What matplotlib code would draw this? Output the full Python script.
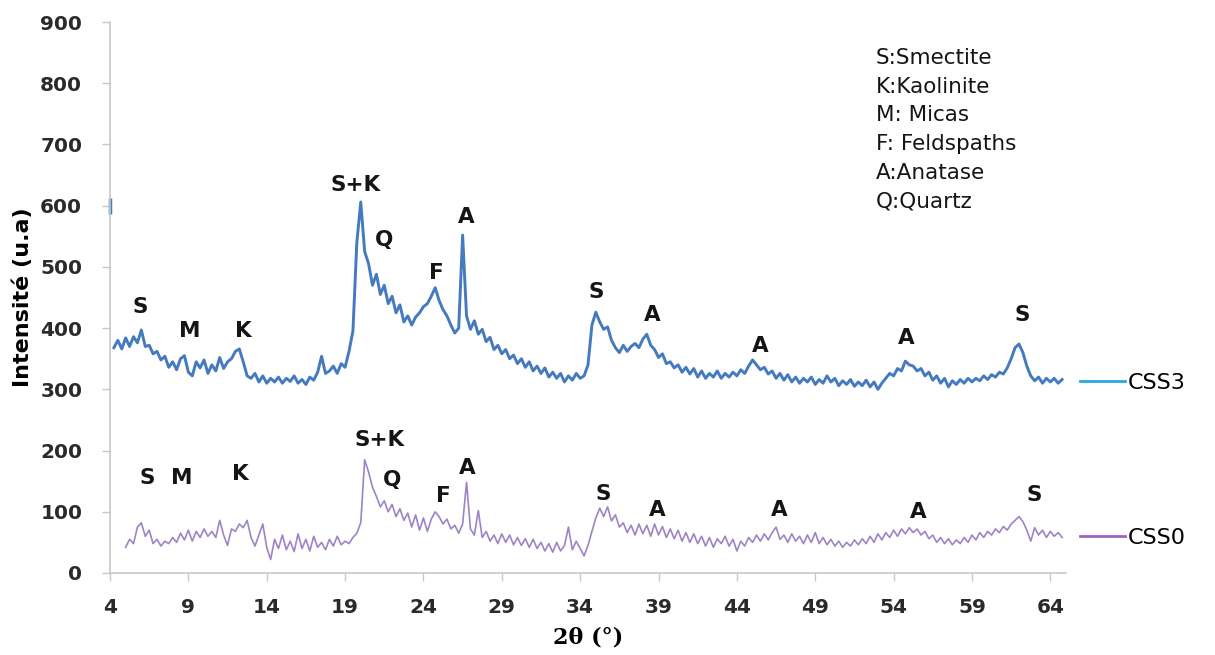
import numpy as np
import matplotlib
matplotlib.use("Agg")
from matplotlib import pyplot as plt
from matplotlib.lines import Line2D

plt.rcParams['font.family'] = ['DejaVu Sans']

# scan grid (2theta start and step) for each pattern
css3_start, css0_start, step = 4.25, 5.0, 0.25

css3 = [368, 380, 366, 384, 370, 386, 376, 397, 370, 372, 358, 362, 348, 354, 336, 345, 332, 350, 355, 328,
        322, 345, 335, 348, 326, 340, 330, 352, 334, 345, 350, 362, 366, 345, 322, 318, 326, 312, 322, 310,
        318, 312, 320, 310, 318, 313, 322, 310, 316, 308, 320, 315, 328, 354, 326, 330, 338, 326, 342, 336,
        362, 395, 540, 606, 525, 505, 470, 488, 455, 470, 440, 452, 425, 438, 410, 420, 405, 418, 425, 435,
        440, 452, 466, 445, 430, 420, 405, 392, 400, 552, 420, 398, 412, 390, 398, 378, 385, 365, 372, 358,
        365, 350, 356, 342, 350, 336, 345, 330, 338, 326, 335, 320, 328, 318, 326, 312, 322, 315, 326, 318,
        322, 340, 405, 426, 410, 398, 402, 380, 368, 360, 372, 362, 370, 375, 368, 382, 390, 372, 365, 352,
        358, 342, 345, 335, 340, 328, 336, 325, 334, 320, 330, 318, 326, 320, 330, 318, 326, 320, 328, 322,
        332, 326, 338, 348, 340, 332, 336, 325, 330, 318, 326, 315, 324, 312, 320, 310, 318, 312, 320, 308,
        316, 310, 322, 312, 318, 306, 314, 308, 316, 305, 312, 306, 315, 304, 312, 300, 310, 318, 326, 322,
        334, 330, 346, 340, 338, 330, 334, 322, 328, 315, 322, 310, 318, 304, 314, 308, 316, 310, 318, 312,
        318, 314, 322, 316, 324, 320, 328, 325, 335, 350, 368, 374, 360, 338, 322, 314, 320, 310, 318, 312,
        318, 310, 316]

css0 = [42, 55, 48, 75, 82, 60, 70, 48, 55, 44, 52, 48, 58, 50, 65, 54, 70, 52, 68, 58,
        72, 60, 68, 58, 86, 62, 45, 72, 68, 80, 74, 86, 58, 44, 62, 80, 42, 22, 55, 40,
        62, 38, 52, 35, 64, 40, 55, 36, 60, 42, 50, 38, 55, 44, 60, 46, 52, 48, 58, 65,
        82, 185, 165, 140, 125, 108, 118, 100, 112, 92, 105, 86, 98, 75, 95, 70, 90, 68, 88, 100,
        92, 80, 88, 72, 78, 65, 80, 148, 72, 62, 102, 58, 68, 52, 62, 48, 64, 50, 62, 46,
        58, 45, 56, 42, 55, 40, 50, 36, 48, 34, 50, 36, 45, 75, 38, 52, 40, 28, 45, 68,
        90, 106, 92, 108, 85, 95, 75, 82, 66, 78, 62, 80, 64, 78, 60, 80, 62, 76, 58, 72,
        56, 70, 52, 66, 50, 64, 48, 60, 44, 58, 42, 56, 48, 60, 44, 55, 36, 52, 44, 58,
        50, 62, 52, 64, 54, 66, 75, 55, 62, 50, 64, 52, 60, 48, 62, 50, 66, 48, 58, 46,
        55, 44, 52, 42, 50, 44, 54, 46, 56, 48, 60, 50, 64, 54, 66, 58, 70, 60, 72, 64,
        74, 66, 72, 62, 68, 56, 62, 50, 58, 48, 56, 46, 54, 48, 58, 50, 62, 54, 66, 58,
        68, 62, 72, 66, 76, 70, 80, 86, 92, 84, 70, 52, 74, 62, 70, 58, 68, 60, 66, 58]

# isolated first point of CSS3 at 4 deg
stray_x = [4.0]
stray_y = [600]

# peak labels (2theta, intensity, text)
labels_css3 = [(5.9, 435, "S"), (9.1, 395, "M"), (12.5, 395, "K"), (19.7, 634, "S+K"),
               (21.5, 544, "Q"), (24.8, 490, "F"), (26.7, 582, "A"), (35.0, 459, "S"),
               (38.6, 422, "A"), (45.5, 371, "A"), (54.8, 384, "A"), (62.2, 422, "S")]
labels_css0 = [(6.4, 155, "S"), (8.6, 155, "M"), (12.3, 162, "K"), (21.2, 217, "S+K"),
               (22.0, 152, "Q"), (25.3, 126, "F"), (26.8, 172, "A"), (35.5, 129, "S"),
               (38.9, 103, "A"), (46.7, 103, "A"), (55.6, 100, "A"), (63.0, 127, "S")]

phases = ["S:Smectite", "K:Kaolinite", "M: Micas", "F: Feldspaths", "A:Anatase", "Q:Quartz"]

xticks = list(range(4, 65, 5))
yticks = list(range(0, 901, 100))

x3 = css3_start + step * np.arange(len(css3))
x0 = css0_start + step * np.arange(len(css0))

fig = plt.figure(figsize=(12.15, 6.55), dpi=100)
ax = fig.add_axes([110 / 1215, 1 - 573 / 655, 956 / 1215, 551 / 655])

c3 = '#4579c0'
c0 = '#9c84c6'
ax.plot(x3, css3, color=c3, lw=2.1)
ax.plot(x0, css0, color=c0, lw=1.2)
ax.plot(stray_x, stray_y, marker='|', ms=12, mew=2.5, color=c3, ls='none', clip_on=False)

for x, y, t in labels_css3 + labels_css0:
    ax.text(x, y, t, ha='center', va='center', fontsize=15.5, fontweight='bold', color='#151515')

for i, p in enumerate(phases):
    ax.text(0.801, 0.935 - i * 0.0523, p, transform=ax.transAxes, ha='left', va='center',
            fontsize=15.5, color='#151515')

ax.set_xlim(4, 65)
ax.set_ylim(0, 900)
ax.set_xticks(xticks)
ax.set_yticks(yticks)
for side in ['top', 'right']:
    ax.spines[side].set_visible(False)
for side in ['left', 'bottom']:
    ax.spines[side].set_color('#c8c8c8')
    ax.spines[side].set_linewidth(1.2)
ax.tick_params(axis='both', colors='#c8c8c8', labelcolor='#2a2a2a', labelsize=14.5, length=6, width=1)
ax.tick_params(axis='y', pad=14)
ax.tick_params(axis='x', pad=12)
for lab in ax.get_xticklabels() + ax.get_yticklabels():
    lab.set_fontweight('bold')

ax.set_ylabel("Intensité (u.a)", fontsize=16, fontweight='bold', labelpad=5)
ax.set_xlabel("2θ (°)", fontsize=16, fontweight='bold', family='DejaVu Serif', labelpad=7)

leg3 = ax.legend([Line2D([], [], color='#2aa6e0', lw=2)], ["CSS3"], loc='center left',
                 bbox_to_anchor=(1.015, 0.345), frameon=False, fontsize=16,
                 handlelength=2.0, handletextpad=0.15, borderaxespad=0, borderpad=0)
ax.add_artist(leg3)
ax.legend([Line2D([], [], color='#a064c4', lw=2)], ["CSS0"], loc='center left',
          bbox_to_anchor=(1.015, 0.0635), frameon=False, fontsize=16,
          handlelength=2.0, handletextpad=0.15, borderaxespad=0, borderpad=0)

fig.savefig("out.png", dpi=100)
